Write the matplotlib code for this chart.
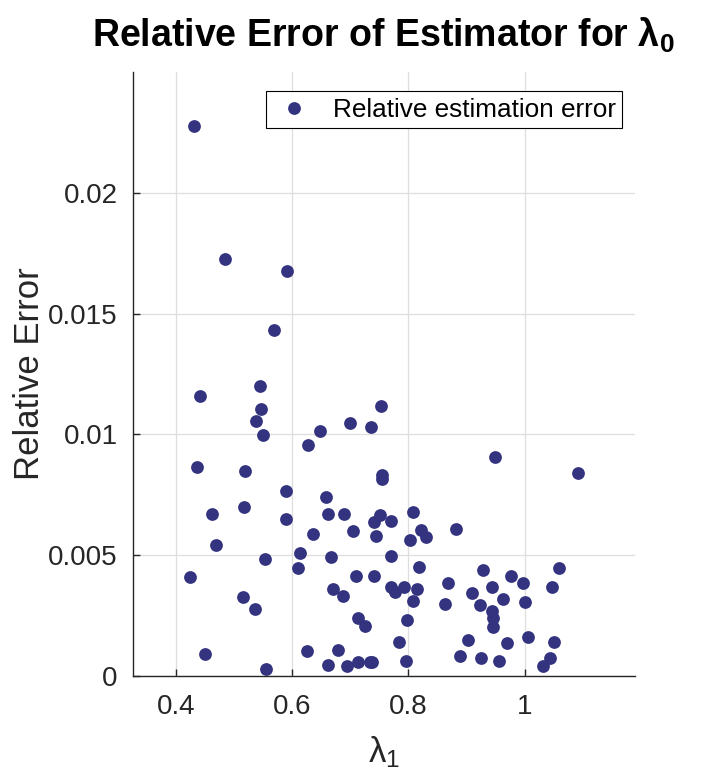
import matplotlib
matplotlib.use("Agg")
import matplotlib.pyplot as plt

plt.rcParams['font.family'] = ['Liberation Sans', 'DejaVu Sans']
plt.rcParams['mathtext.fontset'] = 'custom'
plt.rcParams['mathtext.rm'] = 'Liberation Sans'
plt.rcParams['mathtext.it'] = 'Liberation Sans'
plt.rcParams['mathtext.bf'] = 'Liberation Sans:bold'

lambda1 = [0.4305, 0.484, 0.590, 0.5684, 0.5448, 0.4403, 0.5466, 0.5379, 0.549, 0.6472,
           0.6266, 0.699, 0.7357, 0.7529, 0.4362, 0.519, 0.9495, 1.092, 0.7547, 0.7547,
           0.5891, 0.6586, 0.4621, 0.5167, 0.5886, 0.6621, 0.6897, 0.7507, 0.7403, 0.769,
           0.8069, 0.881, 0.7047, 0.6352, 0.7438, 0.8224, 0.831, 0.8024, 0.4679, 0.5524,
           0.6128, 0.6667, 0.7707, 0.6103, 0.8179, 0.4236, 0.7103, 0.7409, 0.5145, 0.5357,
           0.6697, 0.6869, 0.7133, 0.7253, 0.769, 0.7766, 0.7921, 0.8138, 0.8069, 0.7978,
           0.784, 0.7955, 0.9276, 1.0598, 0.9766, 0.9966, 0.8679, 0.9443, 1.0478, 0.9086,
           0.9628, 0.8633, 0.9231, 1.0, 0.9443, 0.946, 0.9448, 0.9017, 0.9697, 1.0052,
           1.0512, 0.8891, 0.9241, 0.9559, 1.0438, 1.0322, 0.4495, 0.5552, 0.6259, 0.6793,
           0.6616, 0.6948, 0.7138, 0.7345, 0.7374]
rel_error = [0.02275, 0.01728, 0.01678, 0.01433, 0.01201, 0.01159, 0.01104, 0.01057, 0.00998, 0.01013,
             0.00958, 0.01049, 0.0103, 0.01118, 0.00867, 0.00848, 0.00906, 0.00839, 0.00832, 0.00816,
             0.00766, 0.00741, 0.00672, 0.00701, 0.0065, 0.0067, 0.00671, 0.00667, 0.00638, 0.00643,
             0.0068, 0.00609, 0.00602, 0.00589, 0.0058, 0.00605, 0.00577, 0.00563, 0.00541, 0.00486,
             0.00508, 0.00493, 0.00497, 0.00447, 0.0045, 0.0041, 0.00415, 0.00415, 0.00327, 0.00279,
             0.00359, 0.0033, 0.0024, 0.00207, 0.00367, 0.00348, 0.00367, 0.0036, 0.00311, 0.00233,
             0.0014, 0.00061, 0.00439, 0.00446, 0.00415, 0.00385, 0.00384, 0.00369, 0.00369, 0.00344,
             0.0032, 0.00298, 0.00293, 0.00305, 0.0027, 0.00239, 0.00203, 0.00149, 0.00138, 0.0016,
             0.0014, 0.00083, 0.00073, 0.00062, 0.00075, 0.00043, 0.00091, 0.00028, 0.00105, 0.00106,
             0.00046, 0.0004, 0.00057, 0.00057, 0.00057]

x_ticks = [0.4, 0.6, 0.8, 1.0]
x_ticklabels = ['0.4', '0.6', '0.8', '1']
y_ticks = [0, 0.005, 0.01, 0.015, 0.02]
y_ticklabels = ['0', '0.005', '0.01', '0.015', '0.02']

fig = plt.figure(figsize=(7.03, 7.81), dpi=100)
ax = fig.add_axes([0.189, 0.1344, 0.714, 0.7734])

ax.plot(lambda1, rel_error, linestyle='none', marker='o', markersize=9.2,
        color='#333380', markeredgewidth=0, label='Relative estimation error')

ax.set_xlim(0.325, 1.19)
ax.set_ylim(0, 0.025)
ax.set_xticks(x_ticks)
ax.set_xticklabels(x_ticklabels)
ax.set_yticks(y_ticks)
ax.set_yticklabels(y_ticklabels)

ax.grid(True, color='#dedede', linewidth=0.9)
ax.set_axisbelow(True)
for s in ['top', 'right']:
    ax.spines[s].set_visible(False)
for s in ['left', 'bottom']:
    ax.spines[s].set_color('#262626')
    ax.spines[s].set_linewidth(1.0)
ax.tick_params(direction='in', length=5, width=1, colors='#262626',
               labelsize=20, pad=11)
ax.tick_params(axis='x', pad=13)

ax.set_xlabel(r'$\lambda_1$', fontsize=25, color='#262626', labelpad=10)
ax.set_ylabel('Relative Error', fontsize=25, color='#262626', labelpad=1.5)
ax.set_title(r'Relative Error of Estimator for $\mathbf{\lambda_0}$', fontsize=27,
             fontweight='bold', pad=18)

leg = ax.legend(loc='upper right', fontsize=18.8, frameon=True, fancybox=False,
                edgecolor='black', framealpha=1, borderpad=0.25, handletextpad=0.7,
                handlelength=1.6, bbox_to_anchor=(0.975, 0.968), borderaxespad=0)
leg.get_frame().set_linewidth(0.8)

fig.savefig('out.png', dpi=100)
